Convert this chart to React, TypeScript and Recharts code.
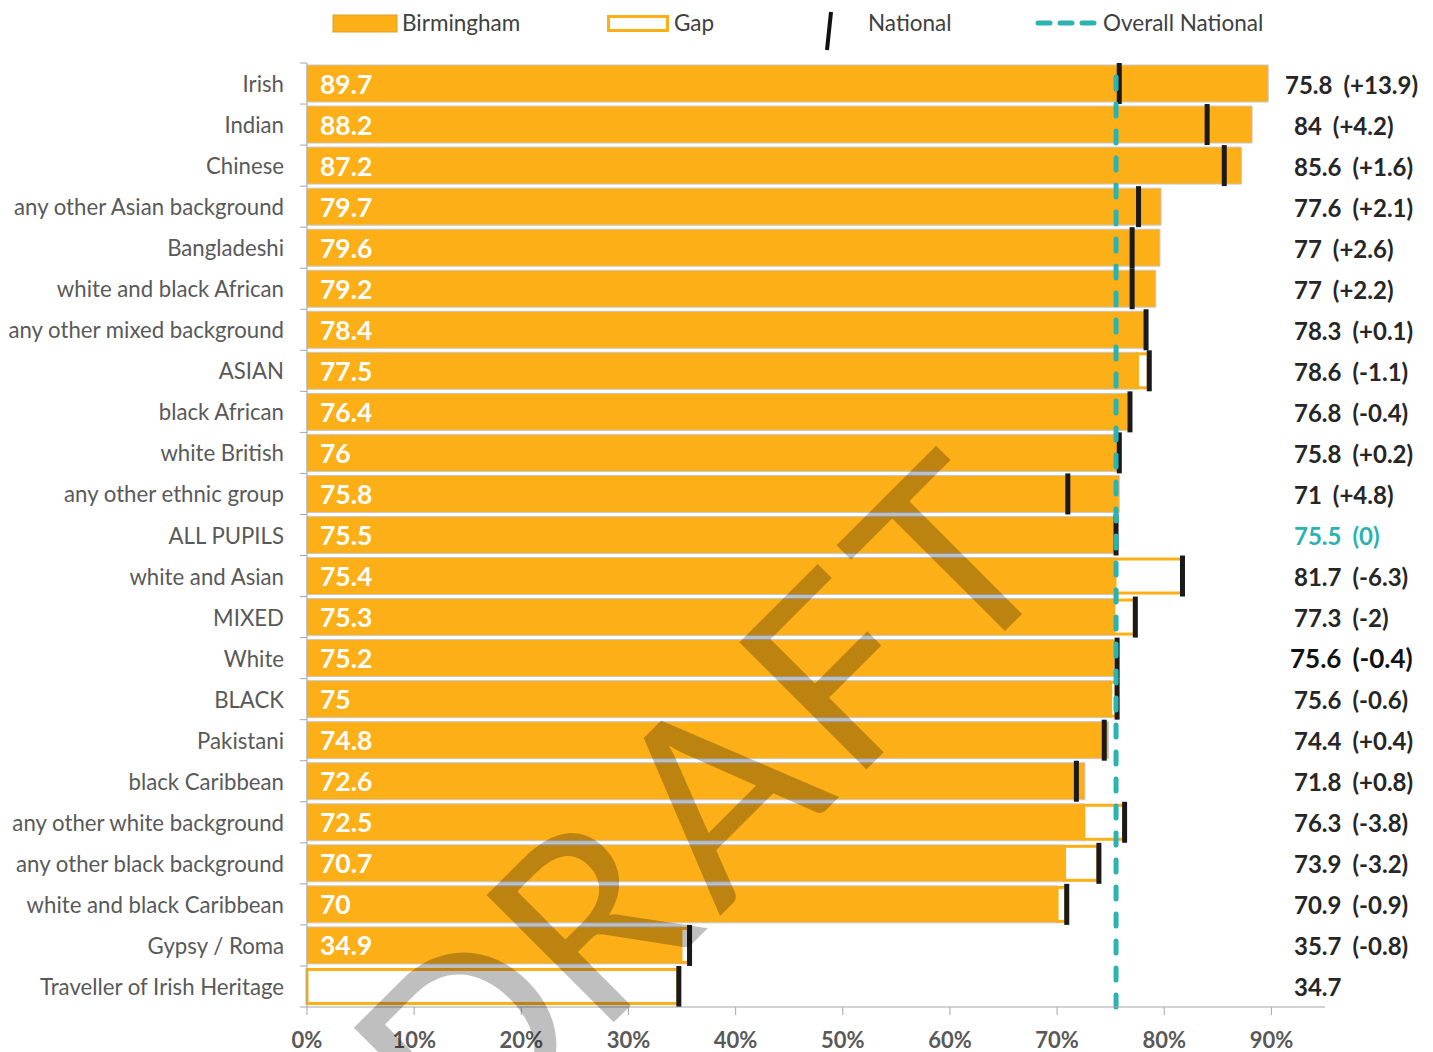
import React from 'react';
import { ComposedChart, Bar, XAxis, YAxis, ReferenceLine, LabelList } from 'recharts';

const groups = [
  'Irish', 'Indian', 'Chinese', 'any other Asian background', 'Bangladeshi',
  'white and black African', 'any other mixed background', 'ASIAN', 'black African',
  'white British', 'any other ethnic group', 'ALL PUPILS', 'white and Asian', 'MIXED',
  'White', 'BLACK', 'Pakistani', 'black Caribbean', 'any other white background',
  'any other black background', 'white and black Caribbean', 'Gypsy / Roma',
  'Traveller of Irish Heritage',
];
const birminghamValues: (number | null)[] = [
  89.7, 88.2, 87.2, 79.7, 79.6, 79.2, 78.4, 77.5, 76.4, 76, 75.8, 75.5, 75.4, 75.3,
  75.2, 75, 74.8, 72.6, 72.5, 70.7, 70, 34.9, null,
];
const nationalValues = [
  75.8, 84, 85.6, 77.6, 77, 77, 78.3, 78.6, 76.8, 75.8, 71, 75.5, 81.7, 77.3,
  75.6, 75.6, 74.4, 71.8, 76.3, 73.9, 70.9, 35.7, 34.7,
];
const overallNational = 75.5;
const xTicks = [0, 10, 20, 30, 40, 50, 60, 70, 80, 90];

const round1 = (v: number) => Math.round(v * 10) / 10;

const data = groups.map((name, i) => {
  const b = birminghamValues[i];
  const n = nationalValues[i];
  const base = b ?? 0;
  return {
    name,
    birmingham: b,
    gap: n > base ? round1(n - base) : 0,
    national: n,
    diff: b == null ? null : round1(b - n),
  };
});

const W = 1433;
const H = 1052;
const PLOT_LEFT = 307;
const PLOT_TOP = 63;
const PLOT_BOTTOM = 1007;
const PLOT_RIGHT = 1325;
const BAND = (PLOT_BOTTOM - PLOT_TOP) / groups.length;

const ORANGE = '#FCAF17';
const TEAL = '#2BB3B1';
const AXIS = '#a6a6a6';
const FONT = 'Lato, "Open Sans", sans-serif';

const CategoryTick = (props: any) => {
  const { y, payload, index } = props;
  const last = index === groups.length - 1;
  return (
    <g>
      <line x1={PLOT_LEFT - 7} x2={PLOT_LEFT} y1={y - BAND / 2} y2={y - BAND / 2} stroke={AXIS} />
      {last && <line x1={PLOT_LEFT - 7} x2={PLOT_LEFT} y1={y + BAND / 2} y2={y + BAND / 2} stroke={AXIS} />}
      <text x={284} y={y} textAnchor="end" dominantBaseline="central" fill="#595959" fontSize={22.2} fontFamily={FONT}>
        {payload.value}
      </text>
    </g>
  );
};

const BarValueLabel = (props: any) => {
  const { x, y, height, value } = props;
  if (value == null) return null;
  return (
    <text x={x + 13} y={y + height / 2} dominantBaseline="central" fill="#fff" fontSize={26.5} fontWeight="bold" fontFamily={FONT}>
      {value}
    </text>
  );
};

const GapShape = (props: any) => {
  const { x, y, width, height } = props;
  if (!width || width <= 0) return null;
  return <rect x={x} y={y + 1.5} width={width - 1} height={height - 3} fill="#fff" stroke={ORANGE} strokeWidth={3} />;
};

const NationalMarker = (props: any) => {
  const { x, y, width, height } = props;
  return <rect x={x + width - 2.5} y={y - 2} width={5} height={height + 4} fill="#1a1a1a" />;
};

const NationalLabel = (props: any) => {
  const { y, height, index } = props;
  const row = data[index];
  const isAll = row.name === 'ALL PUPILS';
  const isWhite = row.name === 'White';
  const d = row.diff;
  const diffText = d == null ? '' : `(${d > 0 ? '+' : ''}${d})`;
  const long = diffText.length > 6;
  return (
    <text
      x={long ? 1285 : isWhite ? 1290 : 1294}
      y={y + height / 2}
      dominantBaseline="central"
      fill={isAll ? TEAL : isWhite ? '#111' : '#262626'}
      fontSize={isWhite ? 26 : 24}
      fontWeight="bold"
      fontFamily={FONT}
    >
      <tspan>{row.national}</tspan>
      {diffText && <tspan dx={11}>{diffText}</tspan>}
    </text>
  );
};

const LegendBar = () => (
  <svg width={W} height={60} style={{ position: 'absolute', left: 0, top: 0 }}>
    <g fontFamily={FONT} fontSize={22.5} fill="#404040">
      <rect x={333} y={15} width={64} height={17} fill={ORANGE} stroke="#d9a030" strokeWidth={1} />
      <text x={402} y={22} dominantBaseline="central">Birmingham</text>
      <rect x={608.5} y={16.5} width={59} height={14} fill="#fff" stroke={ORANGE} strokeWidth={3} />
      <text x={674} y={22} dominantBaseline="central">Gap</text>
      <line x1={831} y1={12} x2={827} y2={50} stroke="#111" strokeWidth={4} />
      <text x={868} y={22} dominantBaseline="central">National</text>
      <line x1={1038} y1={23} x2={1096} y2={23} stroke={TEAL} strokeWidth={5} strokeDasharray="12 10" strokeLinecap="round" />
      <text x={1103} y={22} dominantBaseline="central">Overall National</text>
    </g>
  </svg>
);

const Watermark = () => (
  <svg width={W} height={H} style={{ position: 'absolute', left: 0, top: 0, pointerEvents: 'none' }}>
    <text
      x={452}
      y={1184}
      textAnchor="start"
      transform="rotate(-45 452 1184)"
      fontFamily={FONT}
      fontSize={251}
      letterSpacing={15}
      fill="#000"
      fillOpacity={0.25}
    >
      <tspan dx={18}>D</tspan>
      <tspan dx={-18}>RAFT</tspan>
    </text>
  </svg>
);

export default function App() {
  return (
    <div style={{ position: 'absolute', left: 0, top: 0, width: W, height: H, background: '#fff', overflow: 'hidden' }}>
      <ComposedChart
        width={W}
        height={H}
        data={data}
        layout="vertical"
        margin={{ top: PLOT_TOP, right: W - PLOT_RIGHT, bottom: 0, left: 0 }}
      >
        <XAxis
          type="number"
          domain={[0, 95]}
          ticks={xTicks}
          interval={0}
          tickFormatter={(v: number) => `${v}%`}
          height={H - PLOT_BOTTOM}
          axisLine={{ stroke: AXIS }}
          tickLine={{ stroke: AXIS }}
          tickSize={8}
          tickMargin={17}
          tick={{ fill: '#595959', fontSize: 22, fontWeight: 'bold', fontFamily: FONT }}
        />
        <YAxis
          type="category"
          dataKey="name"
          width={PLOT_LEFT}
          interval={0}
          axisLine={{ stroke: AXIS }}
          tickLine={false}
          tick={<CategoryTick />}
        />
        <YAxis yAxisId="nat" type="category" dataKey="name" hide />
        <Bar dataKey="birmingham" stackId="a" fill={ORANGE} stroke="#c8c8c8" strokeWidth={1} barSize={37} isAnimationActive={false}>
          <LabelList dataKey="birmingham" content={<BarValueLabel />} />
        </Bar>
        <Bar dataKey="gap" stackId="a" barSize={37} shape={<GapShape />} isAnimationActive={false} />
        <Bar dataKey="national" yAxisId="nat" barSize={37} shape={<NationalMarker />} isAnimationActive={false}>
          <LabelList dataKey="national" content={<NationalLabel />} />
        </Bar>
        <ReferenceLine
          x={overallNational}
          stroke={TEAL}
          strokeWidth={5}
          strokeDasharray="12 15"
          strokeLinecap="round"
        />
      </ComposedChart>
      <LegendBar />
      <Watermark />
    </div>
  );
}
